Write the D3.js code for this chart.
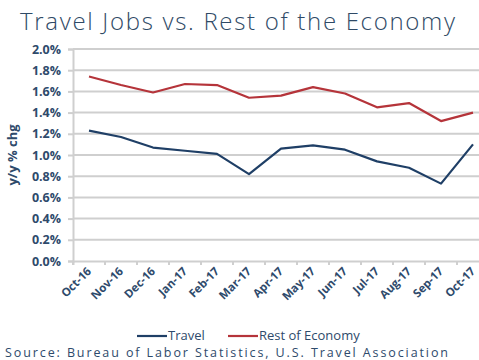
<!DOCTYPE html>
<html>
<head>
<meta charset="utf-8">
<script src="https://cdn.jsdelivr.net/npm/d3@7"></script>
<style>
  body { margin: 0; background: #fff; }
  text { font-family: "Open Sans", "DejaVu Sans", sans-serif; }
</style>
</head>
<body>
<div id="viz"></div>
<script>
const width = 479;
const height = 360;
const margins = { left: 73, right: -10, top: 49, bottom: 99 };
const visWidth = width - margins.left - margins.right;
const visHeight = height - margins.top - margins.bottom;

// data
const months = ["Oct-16", "Nov-16", "Dec-16", "Jan-17", "Feb-17", "Mar-17", "Apr-17",
    "May-17", "Jun-17", "Jul-17", "Aug-17", "Sep-17", "Oct-17"];
const travel = [1.23, 1.17, 1.07, 1.04, 1.01, 0.82, 1.06, 1.09, 1.05, 0.94, 0.88, 0.73, 1.10];
const restOfEconomy = [1.74, 1.66, 1.59, 1.67, 1.66, 1.54, 1.56, 1.64, 1.58, 1.45, 1.49, 1.32, 1.40];
const yTicks = [0, 0.2, 0.4, 0.6, 0.8, 1.0, 1.2, 1.4, 1.6, 1.8, 2.0];

const textColor = "#2e4a6b";
const blue = "#1f3f66";
const red = "#b5343a";

const root = d3.select('#viz')
    .append("svg")
    .attr('width', width)
    .attr('height', height);

root.append("text")
    .attr("x", 20)
    .attr("y", 30)
    .attr("fill", "#2f4a66")
    .attr("font-size", 24)
    .attr("font-weight", 300)
    .attr("textLength", 435)
    .text("Travel Jobs vs. Rest of the Economy");

const svg = root.append("g")
    .attr("transform", `translate(${margins.left}, ${margins.top})`);

const xScale = d3.scaleBand()
    .domain(months)
    .range([0, months.length * 32]);

const yScale = d3.scaleLinear()
    .domain([0, 2.0])
    .range([visHeight, 0]);

// gridlines
svg.append("g")
    .selectAll("line")
    .data(yTicks.slice(1))
    .join("line")
    .attr("x1", 0)
    .attr("x2", visWidth)
    .attr("y1", d => yScale(d))
    .attr("y2", d => yScale(d))
    .attr("stroke", "#cfcfcf")
    .attr("stroke-width", 2);

// y axis
const yAxis = svg.append("g")
    .call(d3.axisLeft(yScale).tickValues(yTicks).tickSize(5).tickFormat(d => d.toFixed(1) + "%"));
yAxis.select(".domain").attr("stroke", "#cfcfcf").attr("stroke-width", 2);
yAxis.selectAll(".tick line").attr("stroke", "#cfcfcf").attr("stroke-width", 2);
yAxis.selectAll(".tick text")
    .attr("fill", textColor)
    .attr("font-size", 12.5)
    .attr("font-weight", "bold")
    .attr("x", -12);

// x axis
const xAxis = svg.append("g")
    .attr("transform", `translate(0, ${visHeight})`)
    .call(d3.axisBottom(xScale).tickSize(4));
xAxis.select(".domain").attr("stroke", "#cfcfcf").attr("stroke-width", 2);
xAxis.selectAll(".tick line")
    .attr("stroke", "#cfcfcf")
    .attr("stroke-width", 2)
    .attr("transform", `translate(${-xScale.step() / 2}, 0)`);
xAxis.selectAll(".tick text")
    .attr("fill", textColor)
    .attr("font-size", 11.5)
    .attr("font-weight", "bold")
    .attr("text-anchor", "end")
    .attr("dy", null)
    .attr("y", 0)
    .attr("transform", "translate(3, 11) rotate(-45)");

svg.append("text")
    .attr("transform", `translate(${-56}, ${yScale(1.0)}) rotate(-90)`)
    .attr("text-anchor", "middle")
    .attr("fill", textColor)
    .attr("font-size", 13)
    .attr("font-weight", "bold")
    .text("y/y % chg");

// lines
const line = d3.line()
    .x((d, i) => xScale(months[i]) + xScale.bandwidth() / 2)
    .y(d => yScale(d));

const series = [
    { name: "Travel", values: travel, color: blue },
    { name: "Rest of Economy", values: restOfEconomy, color: red }
];

series.forEach(s => {
    svg.append("path")
        .datum(s.values)
        .attr("fill", "none")
        .attr("stroke", s.color)
        .attr("stroke-width", 2.2)
        .attr("stroke-linejoin", "round")
        .attr("d", line);
});

// legend
const legend = root.append("g").attr("transform", "translate(137, 336)");
const legendX = [0, 91];
series.forEach((s, i) => {
    const g = legend.append("g").attr("transform", `translate(${legendX[i]}, 0)`);
    g.append("line")
        .attr("x1", 0).attr("x2", 30)
        .attr("stroke", s.color)
        .attr("stroke-width", 2.2);
    g.append("text")
        .attr("x", 31)
        .attr("y", 4)
        .attr("fill", textColor)
        .attr("font-size", 13)
        .text(s.name);
});

root.append("text")
    .attr("x", 5)
    .attr("y", 357)
    .attr("fill", textColor)
    .attr("font-size", 12.5)
    .attr("textLength", 443)
    .text("Source: Bureau of Labor Statistics, U.S. Travel Association");
</script>
</body>
</html>
